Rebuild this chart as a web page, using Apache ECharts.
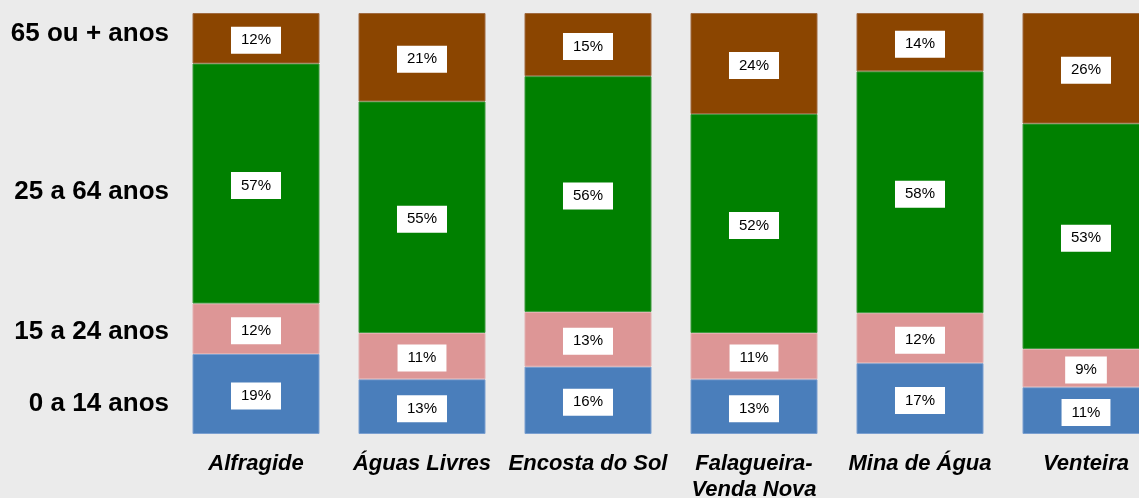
<!DOCTYPE html>
<html>
<head>
<meta charset="utf-8">
<script src="https://cdn.jsdelivr.net/npm/echarts@6/dist/echarts.min.js"></script>
<style>
  html, body { margin: 0; padding: 0; background: #ebebeb; }
  #chart { width: 1139px; height: 498px; }
</style>
</head>
<body>
<div id="chart"></div>
<script>
// freguesias
var categories = ['Alfragide', 'Águas Livres', 'Encosta do Sol', 'Falagueira-\nVenda Nova', 'Mina de Água', 'Venteira'];
var groupNames = ['0 a 14 anos', '15 a 24 anos', '25 a 64 anos', '65 ou + anos'];
// onde ficam as etiquetas do eixo vertical (em % da barra)
var groupTicks = [7.1, 24.2, 57.5, 95];
// percentagens por grupo etário
var age0to14 = [19, 13, 16, 13, 17, 11];
var age15to24 = [12, 11, 13, 11, 12, 9];
var age25to64 = [57, 55, 56, 52, 58, 53];
var age65plus = [12, 21, 15, 24, 14, 26];

var groups = [age0to14, age15to24, age25to64, age65plus];
var colors = ['#4a7ebb', '#dd9696', '#008000', '#8b4500'];
var borders = ['#7a9fd0', '#e3b0b0', '#3f9a3f', '#a06a40'];

// total por barra (para preencher 100%)
var totals = categories.map(function (c, i) {
  return groups.reduce(function (s, g) { return s + g[i]; }, 0);
});

var chart = echarts.init(document.getElementById('chart'));
chart.setOption({
  backgroundColor: '#ebebeb',
  animation: false,
  textStyle: { fontFamily: 'Liberation Sans, Arial, sans-serif' },
  grid: {
    left: 173,
    top: 13,
    width: 996,
    height: 421,
    containLabel: false,
    outerBoundsMode: 'none'
  },
  xAxis: {
    type: 'category',
    data: categories,
    axisLine: { show: false },
    axisTick: { show: false },
    axisLabel: {
      interval: 0,
      margin: 17,
      color: '#000',
      fontSize: 22,
      fontWeight: 'bold',
      fontStyle: 'italic',
      lineHeight: 26
    }
  },
  yAxis: {
    type: 'value',
    min: 0,
    max: 100,
    axisLine: { show: false },
    axisTick: { show: false },
    splitLine: { show: false },
    axisLabel: {
      customValues: groupTicks,
      margin: 4,
      color: '#000',
      fontSize: 26,
      fontWeight: 'bold',
      formatter: function (val) {
        var best = 0;
        groupTicks.forEach(function (p, i) {
          if (Math.abs(p - val) < Math.abs(groupTicks[best] - val)) best = i;
        });
        return groupNames[best];
      }
    }
  },
  series: groups.map(function (g, k) {
    return {
      name: groupNames[k],
      type: 'bar',
      stack: 'total',
      barWidth: 127,
      itemStyle: { color: colors[k], borderColor: borders[k], borderWidth: 1 },
      label: {
        show: true,
        position: 'inside',
        offset: [0, 2],
        color: '#000',
        fontSize: 15,
        backgroundColor: '#fff',
        padding: [6, 10],
        formatter: function (p) { return g[p.dataIndex] + '%'; }
      },
      data: g.map(function (v, i) { return v / totals[i] * 100; })
    };
  })
});
</script>
</body>
</html>
